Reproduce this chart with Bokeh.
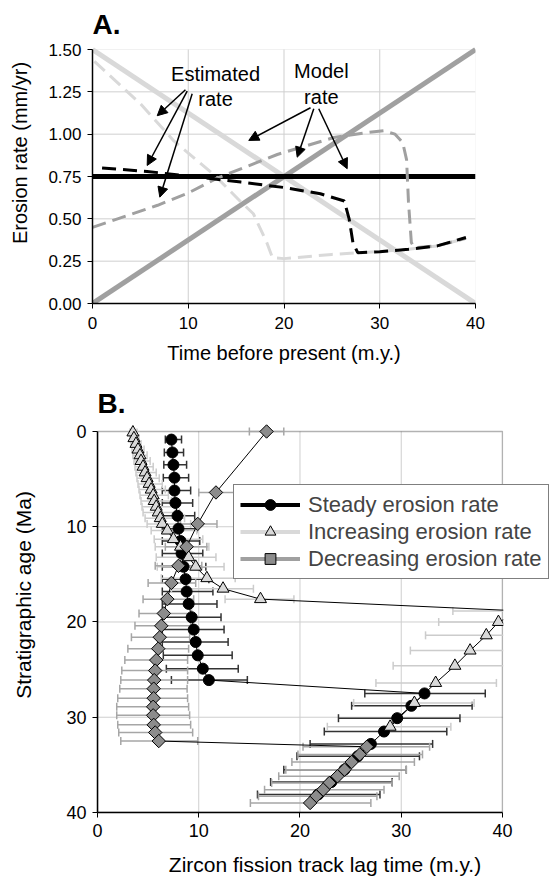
import numpy as np
from bokeh.plotting import figure
from bokeh.models import (Range1d, FixedTicker, PrintfTickFormatter, Label, Arrow,
                          NormalHead, Legend, LegendItem, BoxAnnotation)
from bokeh.layouts import column
from bokeh.embed import file_html
from bokeh.resources import INLINE

FONT = "Liberation Sans"

# ---------------- Panel A data ----------------
a_time_ticks = [0, 10, 20, 30, 40]
a_rate_ticks = [0.0, 0.25, 0.5, 0.75, 1.0, 1.25, 1.5]
a_time_grid = [10, 20, 30]
a_rate_grid = [0.25, 0.5, 0.75, 1.0, 1.25]
a_time_bounds = [0, 40]
a_rate_bounds = [0, 1.5]

model_time = [0, 40]
model_steady = [0.75, 0.75]
model_increasing = [1.5, 0.0]
model_decreasing = [0.0, 1.5]

est_steady_time = [1.0, 5.7, 11.3, 15.5, 20.0, 23.8, 26.3, 26.8, 27.2, 27.7, 30.0, 33.0, 36.0, 39.0]
est_steady_rate = [0.80, 0.78, 0.745, 0.717, 0.685, 0.648, 0.605, 0.50, 0.36, 0.30, 0.305, 0.32, 0.34, 0.39]

est_incr_time = [0.2, 5.0, 8.5, 12.7, 15.5, 16.8, 18.2, 18.8, 20.0, 25.0, 28.0, 33.0, 36.0, 39.0]
est_incr_rate = [1.43, 1.18, 0.96, 0.76, 0.60, 0.53, 0.36, 0.27, 0.265, 0.29, 0.30, 0.32, 0.34, 0.385]

est_decr_time = [0.0, 6.8, 9.9, 13.0, 19.3, 25.2, 28.7, 30.4, 31.6, 32.4, 32.8, 33.0, 33.3, 33.6, 36.0, 39.0]
est_decr_rate = [0.45, 0.58, 0.65, 0.74, 0.88, 0.98, 1.01, 1.02, 1.00, 0.95, 0.85, 0.60, 0.36, 0.33, 0.34, 0.385]

# ---------------- Panel B data ----------------
b_ticks = [0, 10, 20, 30, 40]
b_grid = [10, 20, 30]
b_bounds = [0, 40]

steady_age = [0.85, 2.2, 3.5, 4.85, 6.2, 7.5, 8.85, 10.2, 11.5, 12.8, 14.2, 15.5, 16.8, 18.1, 19.5,
              20.8, 22.1, 23.5, 24.9, 26.1, 27.5, 28.8, 30.1, 31.5, 32.8, 34.1, 35.5, 36.8, 38.1]
steady_lag = [7.3, 7.4, 7.5, 7.6, 7.6, 7.7, 7.9, 8.0, 8.2, 8.3, 8.5, 8.7, 8.8, 9.0, 9.3,
              9.5, 9.7, 9.9, 10.4, 11.0, 32.3, 31.0, 29.6, 28.3, 27.0, 25.7, 24.4, 23.1, 21.8]
steady_lo = [6.7, 6.6, 6.55, 6.5, 6.4, 6.4, 6.4, 6.4, 6.4, 6.4, 6.4, 6.4, 6.4, 6.4, 6.4,
             6.4, 6.4, 6.5, 6.8, 7.3, 26.4, 25.1, 23.8, 22.4, 21.0, 19.7, 18.4, 17.1, 15.8]
steady_hi = [8.3, 8.5, 8.8, 9.0, 9.2, 9.4, 9.6, 9.8, 10.1, 10.4, 10.7, 11.0, 11.4, 11.8, 12.2,
             12.5, 12.9, 13.3, 13.9, 14.8, 38.3, 37.0, 35.8, 34.5, 33.1, 31.8, 30.5, 29.1, 27.9]

incr_age = [0.1, 0.7, 1.3, 1.9, 2.5, 3.1, 3.7, 4.3, 4.9, 5.5, 6.1, 6.7, 7.3, 7.9, 8.5, 9.1, 9.7,
            10.4, 11.3, 12.1, 13.2, 14.2, 15.4, 16.5, 17.6, 18.85, 20.0, 21.4, 23.0, 24.6, 26.4, 28.5, 31.0]
incr_lag = [3.5, 3.6, 3.8, 4.0, 4.2, 4.3, 4.5, 4.7, 4.9, 5.1, 5.3, 5.5, 5.6, 5.8, 6.0, 6.2, 6.4,
            6.9, 7.5, 8.2, 9.0, 9.7, 10.8, 12.4, 16.1, 42.0, 39.6, 38.4, 36.8, 35.3, 33.4, 31.3, 28.9]
incr_lo = [3.2, 3.2, 3.3, 3.4, 3.5, 3.6, 3.7, 3.8, 3.9, 4.0, 4.1, 4.2, 4.3, 4.4, 4.5, 4.7, 4.9,
           5.3, 5.6, 5.7, 5.8, 5.9, 6.3, 7.3, 12.6, 35.1, 33.7, 32.4, 30.9, 29.2, 27.5, 25.3, 22.7]
incr_hi = [3.9, 4.1, 4.3, 4.6, 4.9, 5.2, 5.5, 5.8, 6.1, 6.4, 6.7, 7.0, 7.3, 7.7, 8.1, 8.6, 9.2,
           9.8, 10.4, 11.0, 11.7, 12.5, 13.6, 15.4, 19.4, 50.0, 47.0, 46.0, 44.0, 42.0, 39.4, 37.2, 34.9]

decr_age = [0.0, 6.4, 9.7, 12.1, 14.1, 15.9, 17.6, 19.1, 20.4, 21.6, 22.8, 24.0, 25.1, 26.1, 27.0,
            28.0, 28.9, 29.8, 30.8, 31.6, 32.5, 33.1, 33.9, 34.7, 35.5, 36.2, 36.9, 37.6, 38.3, 39.0]
decr_lag = [16.7, 11.7, 9.9, 8.8, 8.0, 7.3, 6.9, 6.55, 6.3, 6.15, 6.0, 5.8, 5.7, 5.6, 5.55,
            5.55, 5.5, 5.5, 5.55, 5.7, 6.05, 26.6, 25.9, 25.1, 24.4, 23.7, 22.9, 22.3, 21.6, 21.0]
decr_lo = [15.0, 10.0, 8.2, 6.7, 5.7, 5.0, 4.5, 4.1, 3.7, 3.35, 3.0, 2.7, 2.4, 2.3, 2.2,
           2.0, 1.9, 1.9, 2.0, 2.1, 2.3, 20.3, 19.8, 19.2, 18.6, 17.9, 17.2, 16.5, 15.9, 15.1]
decr_hi = [18.4, 13.5, 11.8, 10.8, 10.3, 9.7, 9.5, 9.3, 9.2, 9.1, 9.0, 8.9, 8.9, 8.9, 8.85,
           8.9, 9.0, 9.1, 9.2, 9.4, 9.9, 32.8, 32.1, 31.3, 30.5, 29.8, 29.1, 28.3, 27.6, 27.0]

legend_labels = ["Steady erosion rate", "Increasing erosion rate", "Decreasing erosion rate"]

# ---------------- styles ----------------
BLACK = "#000000"
LIGHT = "#d9d9d9"
MID = "#a0a0a0"
GRID = "#cfcfcf"


def style_axes(p, tick_size, label_size):
    for ax in (p.xaxis[0], p.yaxis[0]):
        ax.axis_line_color = BLACK
        ax.axis_line_width = 1.5
        ax.major_tick_out = 5
        ax.major_tick_in = 0
        ax.major_tick_line_color = BLACK
        ax.major_tick_line_width = 1
        ax.minor_tick_line_color = None
        ax.major_label_text_font = FONT
        ax.major_label_text_font_size = tick_size
        ax.major_label_text_color = BLACK
        ax.axis_label_text_font = FONT
        ax.axis_label_text_font_size = label_size
        ax.axis_label_text_font_style = "normal"
        ax.axis_label_text_color = BLACK
    p.grid.grid_line_color = None
    p.outline_line_color = None


def panel_letter(p, text, x, y, yoff):
    p.add_layout(Label(x=x, y=y, y_offset=yoff, text=text, text_font=FONT, text_font_size="28px",
                       text_font_style="bold", text_align="left", text_baseline="alphabetic",
                       text_color=BLACK))


# ================= Panel A =================
# the frame reaches above the 1.50 line so that the panel letter can sit inside it
pA = figure(frame_width=383, frame_height=301, x_range=Range1d(0, 40), y_range=Range1d(0, 1.7776),
            output_backend="svg", toolbar_location=None,
            min_border_left=92, min_border_right=77, min_border_top=2, min_border_bottom=72)
pA.frame_align = False
pA.xaxis.ticker = FixedTicker(ticks=a_time_ticks)
pA.yaxis.ticker = FixedTicker(ticks=a_rate_ticks)
pA.yaxis.formatter = PrintfTickFormatter(format="%.2f")
pA.xaxis.axis_label = "Time before present (m.y.)"
pA.yaxis.axis_label = "Erosion rate (mm/yr)"
style_axes(pA, "17px", "20px")
pA.yaxis.bounds = (0, 1.5)
pA.xaxis.major_label_standoff = 8
pA.yaxis.major_label_standoff = 6
pA.xaxis.axis_label_standoff = 10
pA.yaxis.axis_label_standoff = 14

n = len(a_time_grid)
pA.segment(x0=a_time_grid, y0=[a_rate_bounds[0]] * n, x1=a_time_grid, y1=[a_rate_bounds[1]] * n,
           line_color=GRID, line_width=1, level="underlay")
m = len(a_rate_grid)
pA.segment(x0=[a_time_bounds[0]] * m, y0=a_rate_grid, x1=[a_time_bounds[1]] * m, y1=a_rate_grid,
           line_color=GRID, line_width=1, level="underlay")
pA.add_layout(BoxAnnotation(left=0, right=40, bottom=0, top=1.5, fill_alpha=0,
                            line_color=GRID, line_width=1, level="underlay"))

pA.line(model_time, model_increasing, line_color=LIGHT, line_width=5)
pA.line(model_time, model_decreasing, line_color=MID, line_width=5)
pA.line(model_time, model_steady, line_color=BLACK, line_width=5)
pA.line(est_incr_time, est_incr_rate, line_color=LIGHT, line_width=3, line_dash="14 7")
pA.line(est_decr_time, est_decr_rate, line_color=MID, line_width=3, line_dash="14 7")
pA.line(est_steady_time, est_steady_rate, line_color=BLACK, line_width=3, line_dash="14 7")

for txt, x, y in [("Estimated", 12.85, 1.353), ("rate", 12.85, 1.209),
                  ("Model", 23.9, 1.376), ("rate", 23.9, 1.217)]:
    pA.add_layout(Label(x=x, y=y, text=txt, text_font=FONT, text_font_size="20px",
                        text_align="center", text_baseline="middle", text_color=BLACK))

arrows_A = [((9.71, 1.262), (6.76, 1.109)), ((9.89, 1.254), (5.71, 0.815)),
            ((10.41, 1.239), (7.03, 0.628)), ((22.77, 1.156), (16.32, 0.963)),
            ((23.11, 1.150), (21.38, 0.864)), ((23.63, 1.150), (26.6, 0.796))]
for (xs, ys), (xe, ye) in arrows_A:
    pA.add_layout(Arrow(end=NormalHead(size=10, fill_color=BLACK, line_color=BLACK, line_width=1),
                        x_start=xs, y_start=ys, x_end=xe, y_end=ye,
                        line_color=BLACK, line_width=1.5))

panel_letter(pA, "A.", 0, 1.5, 25)

# ================= Panel B =================
# frame widened to the right (legend) and upwards (panel letter, top markers)
pB = figure(frame_width=455, frame_height=435, x_range=Range1d(0, 44.94), y_range=Range1d(40, -5.669),
            output_backend="svg", toolbar_location=None,
            min_border_left=97, min_border_right=0, min_border_top=2, min_border_bottom=64)
pB.frame_align = False
pB.xaxis.ticker = FixedTicker(ticks=b_ticks)
pB.yaxis.ticker = FixedTicker(ticks=b_ticks)
pB.xaxis.axis_label = "Zircon fission track lag time (m.y.)"
pB.yaxis.axis_label = "Stratigraphic age (Ma)"
style_axes(pB, "18px", "21px")
pB.xaxis.bounds = (0, 40)
pB.yaxis.bounds = (0, 40)
pB.xaxis.major_label_standoff = 6
pB.yaxis.major_label_standoff = 6
pB.xaxis.axis_label_standoff = 13
pB.yaxis.axis_label_standoff = 28

k = len(b_grid)
pB.segment(x0=b_grid, y0=[b_bounds[0]] * k, x1=b_grid, y1=[b_bounds[1]] * k,
           line_color=GRID, line_width=1, level="underlay")
pB.segment(x0=[b_bounds[0]] * k, y0=b_grid, x1=[b_bounds[1]] * k, y1=b_grid,
           line_color=GRID, line_width=1, level="underlay")
pB.add_layout(BoxAnnotation(left=0, right=40, top=0, bottom=40, fill_alpha=0,
                            line_color=BLACK, line_width=1.5, level="underlay"))

series = [
    (steady_age, steady_lag, steady_lo, steady_hi, "#333333",
     dict(marker="circle", size=11, fill_color=BLACK, line_color=BLACK)),
    (incr_age, incr_lag, incr_lo, incr_hi, "#cccccc",
     dict(marker="triangle", size=12, fill_color=LIGHT, line_color=BLACK)),
    (decr_age, decr_lag, decr_lo, decr_hi, "#a6a6a6",
     dict(marker="square", angle=np.pi / 4, size=9.5, fill_color="#8c8c8c", line_color=BLACK)),
]

for age, lag, lo, hi, bc, mk in series:
    pB.segment(x0=lo, y0=age, x1=hi, y1=age, line_color=bc, line_width=1.5)
    pB.scatter(x=lo, y=age, marker="dash", angle=np.pi / 2, size=8, line_color=bc, line_width=1.5)
    pB.scatter(x=hi, y=age, marker="dash", angle=np.pi / 2, size=8, line_color=bc, line_width=1.5)

for age, lag, lo, hi, bc, mk in series:
    pB.line(lag, age, line_color=BLACK, line_width=1)
    pB.scatter(x=lag, y=age, line_width=1, **mk)

# blank out everything right of the plot box (the frame is widened for the legend)
pB.add_layout(BoxAnnotation(left=40.08, fill_color="white", fill_alpha=1.0, line_color=None,
                            level="annotation"))

nan = np.array([np.nan])
items = []
for (age, lag, lo, hi, bc, mk), lc, lab in zip(series, [BLACK, LIGHT, MID], legend_labels):
    r1 = pB.line(nan, nan, line_color=lc, line_width=4)
    mk2 = dict(mk)
    mk2.pop("size")
    r2 = pB.scatter(nan, nan, line_width=1, **mk2)
    items.append(LegendItem(label=lab, renderers=[r1, r2]))

legend = Legend(items=items, location=(136, 233), orientation="vertical",
                border_line_color=BLACK, border_line_width=1.5,
                background_fill_color="white", background_fill_alpha=1.0,
                label_text_font=FONT, label_text_font_size="22px",
                glyph_width=60, glyph_height=27, label_height=20, spacing=0,
                padding=6, label_standoff=8, margin=0)
pB.add_layout(legend)

panel_letter(pB, "B.", 0, 0, 28)

layout = column(pA, pB, spacing=0)
open("out.html", "w").write(file_html(layout, INLINE))
